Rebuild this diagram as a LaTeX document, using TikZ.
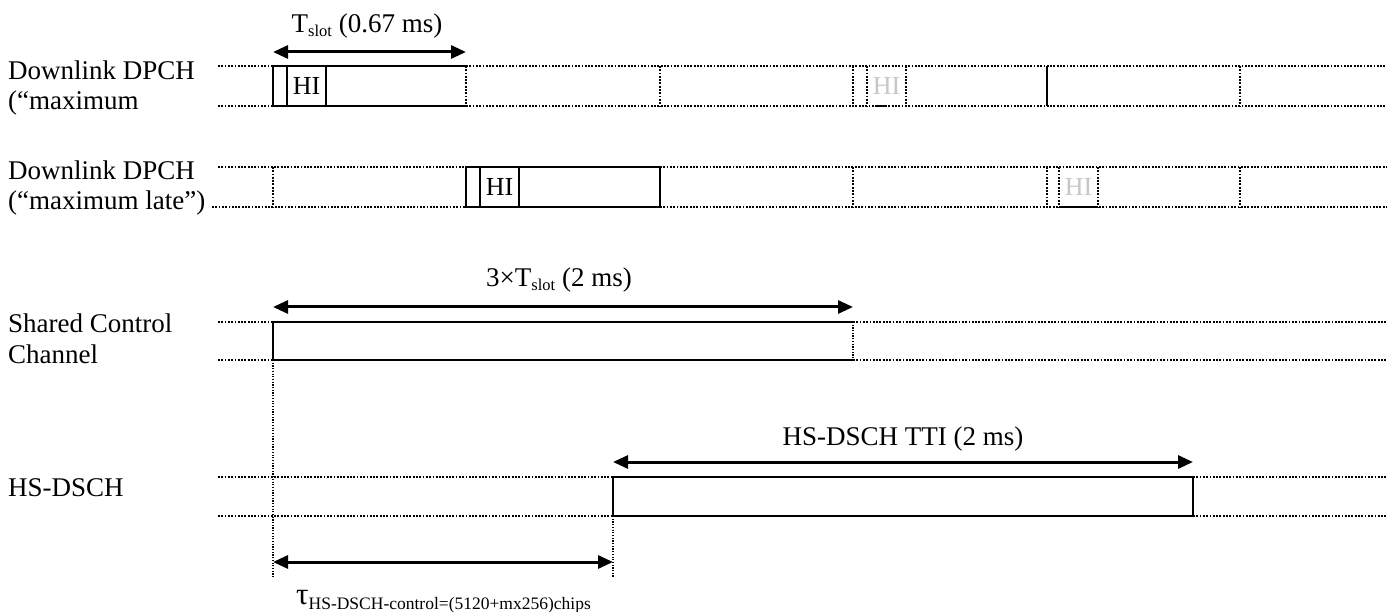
\documentclass[tikz,border=0pt]{standalone}
\usepackage{fontspec}
\setmainfont{Liberation Serif}
\usetikzlibrary{arrows.meta}
\newcommand{\lowsub}[1]{\raisebox{-4pt}{\fontsize{16.5}{17}\selectfont #1}}
\begin{document}
\begin{tikzpicture}[
    x=1pt, y=-1pt,
    >={Triangle[length=15pt,width=13pt]},
    dotline/.style={dash pattern=on 1.8pt off 1.5pt, line width=1.8pt},
    guide/.style={dash pattern=on 1.2pt off 1.5pt, line width=1.2pt},
    slotbox/.style={line width=2.2pt},
    dimarrow/.style={<->, line width=3pt},
    chlabel/.style={anchor=base west, inner sep=0pt, font=\fontsize{27}{32}\selectfont},
    dimlabel/.style={anchor=base, inner sep=0pt, font=\fontsize{27}{32}\selectfont},
    hilabel/.style={inner sep=0pt, font=\fontsize{26}{28}\selectfont},
    ghost/.style={hilabel, text=black!22}
]
    \useasboundingbox (0,0) rectangle (1387,612);

    % channel names
    \node[chlabel] (dl1a) at (8,80) {Downlink DPCH};
    \node[chlabel] (dl1b) at (8,110) {(“maximum};
    \node[chlabel] (dl2a) at (8,180) {Downlink DPCH};
    \node[chlabel] (dl2b) at (8,210) {(“maximum late”)};
    \node[chlabel] (scc1) at (8,333) {Shared Control};
    \node[chlabel] (scc2) at (8,363) {Channel};
    \node[chlabel] (hs) at (8,496) {HS-DSCH};

    % downlink DPCH, maximum
    \draw[dotline] (218,66) -- (273,66) (218,106) -- (273,106);
    \draw[dotline] (466,66) -- (1387,66) (466,106) -- (1387,106);
    \foreach \x in {466,660,853,867,906,1240}
        \draw[dotline] (\x,66) -- (\x,106);
    \draw[slotbox] (1047,66) -- (1047,106);
    \draw[slotbox] (466,66) -- (273,66) -- (273,106) -- (466,106);
    \draw[slotbox] (287,66) -- (287,106) (326,66) -- (326,106);
    \draw[slotbox] (875,106) -- (887,106);
    \node[hilabel] (hi1) at (306.5,86) {HI};
    \node[ghost] (hi1b) at (886.5,86) {HI};

    % downlink DPCH, maximum late
    \draw[dotline] (218,167) -- (466,167) (212,207) -- (466,207);
    \draw[dotline] (660,167) -- (1387,167) (660,207) -- (1387,207);
    \foreach \x in {273,853,1047,1059,1098,1240}
        \draw[dotline] (\x,167) -- (\x,207);
    \draw[slotbox] (466,167) rectangle (660,207);
    \draw[slotbox] (480,167) -- (480,207) (519,167) -- (519,207);
    \draw[slotbox] (1061,207) -- (1098,207);
    \node[hilabel] (hi2) at (499.5,187) {HI};
    \node[ghost] (hi2b) at (1078.5,187) {HI};

    % shared control channel
    \draw[dotline] (218,322) -- (273,322) (218,360) -- (273,360);
    \draw[dotline] (853,322) -- (1387,322) (853,360) -- (1387,360);
    \draw[slotbox] (853,322) -- (273,322) -- (273,360) -- (853,360);
    \draw[guide] (853,322) -- (853,360);

    % HS-DSCH
    \draw[dotline] (218,477) -- (613,477) (218,516) -- (613,516);
    \draw[dotline] (1193,477) -- (1387,477) (1193,516) -- (1387,516);
    \draw[slotbox] (613,477) rectangle (1193,516);

    % timing guides
    \draw[guide] (273,360) -- (273,577);
    \draw[guide] (613,516) -- (613,578);

    % dimensions
    \coordinate (ts-l) at (273,52);
    \coordinate (ts-r) at (466,52);
    \coordinate (sc-l) at (273,307);
    \coordinate (sc-r) at (853,307);
    \coordinate (tti-l) at (613,462);
    \coordinate (tti-r) at (1193,462);
    \coordinate (tau-l) at (273,562);
    \coordinate (tau-r) at (613,562);
    \draw[dimarrow] (ts-l) -- (ts-r);
    \draw[dimarrow] (sc-l) -- (sc-r);
    \draw[dimarrow] (tti-l) -- (tti-r);
    \draw[dimarrow] (tau-l) -- (tau-r);

    \node[dimlabel] (tslot) at (367,33) {T\lowsub{slot} (0.67 ms)};
    \node[dimlabel] (tsc) at (559,287) {3×T\lowsub{slot} (2 ms)};
    \node[dimlabel] (ttti) at (903,445) {HS-DSCH TTI (2 ms)};
    \node[chlabel] (ttau) at (296,604)
        {\fontsize{31}{31}\selectfont τ\raisebox{-5pt}{\fontsize{17.5}{18}\selectfont HS-DSCH-control=(5120+mx256)chips}};
\end{tikzpicture}
\end{document}
